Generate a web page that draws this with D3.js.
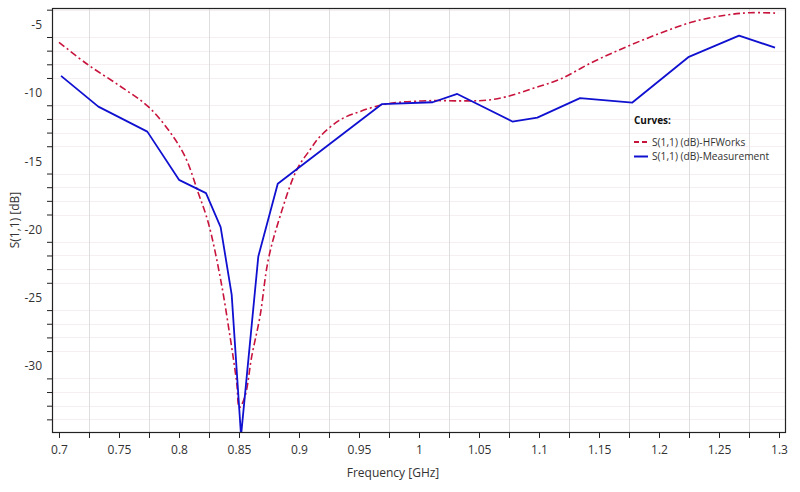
<!DOCTYPE html>
<html>
<head>
<meta charset="utf-8">
<script src="https://cdn.jsdelivr.net/npm/d3@7"></script>
<style>
  body { margin: 0; background: #fff; }
  svg { display: block; font-family: "Open Sans", "Noto Sans", sans-serif; }
</style>
</head>
<body>
<svg id="chart" width="800" height="492"></svg>
<script>
// ---- data ----
const hfFreq = [0.7, 0.7244, 0.7494, 0.7744, 0.7911, 0.805, 0.8161, 0.8244, 0.8342, 0.8425, 0.8481, 0.8503,
  0.855, 0.8606, 0.8675, 0.8744, 0.8842, 0.8981, 0.9092, 0.9175, 0.9342, 0.9508, 0.9689, 0.9842, 1.0119,
  1.0398, 1.0564, 1.0731, 1.0953, 1.1175, 1.1453, 1.1731, 1.2008, 1.2286, 1.2564, 1.2758, 1.2994];
const hfVal = [-6.39, -8.05, -9.51, -11.10, -12.80, -14.75, -17.43, -19.60, -23.53, -27.92, -31.31, -33.14,
  -32.31, -29.39, -26.46, -22.31, -19.14, -15.73, -14.26, -13.29, -12.07, -11.46, -10.97, -10.78, -10.66,
  -10.68, -10.63, -10.37, -9.75, -9.09, -7.81, -6.71, -5.73, -4.88, -4.39, -4.22, -4.26];

const measFreq = [0.7017, 0.7328, 0.7736, 0.8, 0.8225, 0.8347, 0.8439, 0.8517, 0.8661, 0.8823, 0.9689,
  1.0114, 1.0319, 1.0778, 1.0986, 1.1342, 1.1778, 1.2244, 1.2667, 1.2967];
const measVal = [-8.85, -11.10, -12.93, -16.46, -17.43, -19.92, -24.87, -35.2, -22.07, -16.75, -10.92,
  -10.78, -10.17, -12.19, -11.90, -10.48, -10.80, -7.48, -5.90, -6.78];

const xTickLabels = ["0.7", "0.75", "0.8", "0.85", "0.9", "0.95", "1", "1.05", "1.1", "1.15", "1.2", "1.25", "1.3"];
const yTickLabels = ["-5", "-10", "-15", "-20", "-25", "-30"];
const seriesNames = ["S(1,1) (dB)-HFWorks", "S(1,1) (dB)-Measurement"];

// ---- layout ----
const svg = d3.select("#chart");
const L = 52, R = 786, T = 8, B = 433;
const x = d3.scaleLinear().domain([0.69417, 1.30583]).range([L, R]);
const y = d3.scaleLinear().domain([-35, -3.877]).range([B, T]);

// gridlines
const minorX = d3.range(0, 12).map(i => 0.725 + i * 0.05);
const minorY = d3.range(-34, -3).filter(v => v % 5 !== 0);
const grid = svg.append("g");
grid.selectAll(".gy").data(minorY).enter().append("line")
  .attr("x1", L).attr("x2", R).attr("y1", d => Math.round(y(d)) + 0.5).attr("y2", d => Math.round(y(d)) + 0.5)
  .attr("stroke", "#f5eff2").attr("stroke-width", 1);
grid.selectAll(".gx").data(minorX).enter().append("line")
  .attr("x1", d => Math.round(x(d)) + 0.5).attr("x2", d => Math.round(x(d)) + 0.5)
  .attr("y1", T).attr("y2", B)
  .attr("stroke", "#dedede").attr("stroke-width", 1);

// curves
svg.append("clipPath").attr("id", "clip").append("rect")
  .attr("x", L).attr("y", T).attr("width", R - L).attr("height", B - T);
const plot = svg.append("g").attr("clip-path", "url(#clip)");

const hfData = hfFreq.map((f, i) => [f, hfVal[i]]);
const measData = measFreq.map((f, i) => [f, measVal[i]]);

plot.append("path").datum(hfData)
  .attr("d", d3.line().x(d => x(d[0])).y(d => y(d[1])).curve(d3.curveCatmullRom.alpha(0.5)))
  .attr("fill", "none").attr("stroke", "#c8143c").attr("stroke-width", 1.6)
  .attr("stroke-dasharray", "7,3,2,3");
plot.append("path").datum(measData)
  .attr("d", d3.line().x(d => x(d[0])).y(d => y(d[1])))
  .attr("fill", "none").attr("stroke", "#1010d0").attr("stroke-width", 1.8)
  .attr("stroke-linejoin", "round");

// frame
svg.append("rect").attr("x", L + 0.5).attr("y", T + 0.5).attr("width", R - L - 1).attr("height", B - T - 1)
  .attr("fill", "none").attr("stroke", "#222").attr("stroke-width", 1.2);

// x axis
const xAxis = d3.axisBottom(x).tickValues(d3.range(0, 25).map(i => 0.7 + i * 0.025))
  .tickSize(5).tickFormat((d, i) => i % 2 === 0 ? xTickLabels[i / 2] : "");
const gx = svg.append("g").attr("transform", `translate(0,${B})`).call(xAxis);
gx.select(".domain").remove();
gx.selectAll(".tick line").attr("stroke", "#222");
gx.selectAll(".tick text").attr("fill", "#333").attr("font-size", 12).attr("dy", "1.1em")
  .attr("font-family", "'Open Sans', sans-serif");

// y axis
const yTicks = yTickLabels.map(Number);
const yAxis = d3.axisLeft(y).tickValues(minorY).tickSize(5).tickFormat("");
const gy = svg.append("g").attr("transform", `translate(${L},0)`).call(yAxis);
gy.select(".domain").remove();
gy.selectAll(".tick line").attr("stroke", "#222");
svg.append("g").selectAll("text").data(yTicks).enter().append("text")
  .attr("x", 42).attr("y", d => y(d) + 1.5).attr("dy", "0.35em")
  .attr("text-anchor", "end").attr("font-size", 12).attr("fill", "#333")
  .text((d, i) => yTickLabels[i]);

// axis titles
svg.append("text").attr("x", 393).attr("y", 477).attr("text-anchor", "middle")
  .attr("font-size", 12).attr("fill", "#333").text("Frequency [GHz]");
svg.append("text").attr("transform", "translate(19,220) rotate(-90)").attr("text-anchor", "middle")
  .attr("font-size", 12).attr("fill", "#333").text("S(1,1) [dB]");

// legend
const lg = svg.append("g");
lg.append("text").attr("x", 634).attr("y", 124).attr("font-size", 10).attr("font-weight", "bold")
  .attr("fill", "#111").text("Curves:");
const colors = ["#c8143c", "#1010d0"];
const dashes = ["5,3", null];
seriesNames.forEach((name, i) => {
  const yy = 142 + i * 14.5;
  lg.append("line").attr("x1", 634).attr("x2", 648).attr("y1", yy).attr("y2", yy)
    .attr("stroke", colors[i]).attr("stroke-width", 2).attr("stroke-dasharray", dashes[i]);
  lg.append("text").attr("x", 652).attr("y", yy).attr("dy", "0.35em").attr("font-size", 10.2)
    .attr("fill", "#333").text(name);
});
</script>
</body>
</html>
